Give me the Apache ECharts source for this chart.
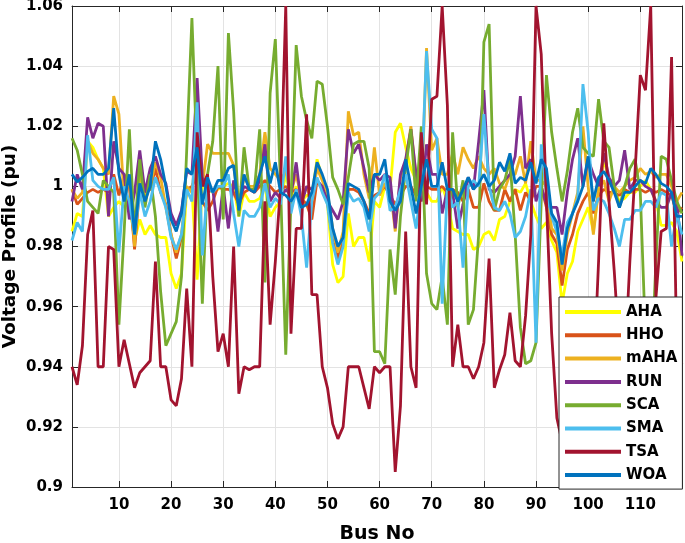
<!DOCTYPE html>
<html><head><meta charset="utf-8">
<script src="https://cdn.jsdelivr.net/npm/echarts@6/dist/echarts.min.js"></script>
<style>html,body{margin:0;padding:0;background:#fff}#c{width:685px;height:543px}</style>
</head><body><div id="c"></div><script>
// Bus numbers 1..118
const busNo = Array.from({length: 118}, (_, i) => i + 1);
const xTickValues = [10, 20, 30, 40, 50, 60, 70, 80, 90, 100, 110];
const seriesNames = ['AHA', 'HHO', 'mAHA', 'RUN', 'SCA', 'SMA', 'TSA', 'WOA'];

const AHA = [
0.985,0.991,0.990,1.015,1.013,1.009,1.006,0.990,0.993,0.995,
0.993,0.995,0.982,0.989,0.984,0.987,0.984,0.983,0.983,0.971,
0.966,0.971,0.999,0.999,0.969,1.000,0.999,0.998,0.999,1.000,
1.001,1.000,0.990,0.998,0.995,0.995,0.996,1.000,0.990,0.993,
0.995,1.004,0.996,1.000,0.995,0.997,0.997,1.009,1.003,0.994,
0.974,0.968,0.970,0.991,0.980,0.983,0.983,0.975,0.995,0.993,
1.000,0.999,1.018,1.021,1.013,1.006,1.002,0.998,0.998,0.995,
0.995,1.000,0.995,0.986,0.985,0.984,0.984,0.979,0.980,0.984,
0.985,0.982,0.989,0.990,0.995,0.999,0.998,1.001,0.995,0.990,
0.986,0.988,0.982,0.978,0.961,0.971,0.975,0.985,0.989,0.993,
0.985,0.999,1.009,1.002,0.999,0.995,0.996,0.998,0.998,1.000,
1.002,0.999,0.995,0.987,0.987,0.988,0.985,0.975];

const HHO = [
0.999,0.994,0.996,0.998,0.999,0.998,0.999,0.998,1.004,0.997,
1.004,1.000,0.979,1.000,0.998,0.999,1.006,0.998,0.994,0.984,
0.976,0.983,0.999,1.000,1.004,0.995,0.992,0.995,1.000,0.999,
0.999,0.998,0.994,0.998,0.999,0.998,1.000,1.002,1.000,0.998,
0.999,1.000,0.998,0.999,0.996,0.994,0.989,1.002,0.999,0.995,
0.982,0.976,0.982,0.999,0.999,0.998,0.995,0.991,0.997,0.998,
1.000,0.997,0.994,0.997,1.000,1.000,0.997,0.998,1.000,0.999,
0.999,1.000,0.998,0.999,0.998,0.995,0.999,0.993,0.993,1.001,
0.995,0.992,0.992,0.999,0.995,0.999,0.992,0.998,0.995,1.000,
1.000,0.993,0.984,0.981,0.967,0.979,0.984,0.991,0.995,0.998,
0.991,0.997,0.999,0.998,0.998,0.997,0.999,0.998,0.999,0.999,
0.998,0.999,0.998,0.999,0.998,0.997,0.991,0.993];

const mAHA = [
0.999,0.996,0.998,1.015,1.011,1.009,1.006,1.004,1.030,1.024,
0.996,1.003,0.980,1.005,0.996,1.000,1.008,1.003,0.993,0.984,
0.978,0.984,1.000,0.998,1.015,1.000,1.014,1.011,1.011,1.011,
1.011,1.007,0.993,1.003,1.000,1.000,1.004,1.018,1.006,1.004,
1.002,1.005,0.998,1.004,0.996,1.000,0.995,1.006,1.002,0.998,
0.986,0.978,0.985,1.025,1.017,1.018,1.004,0.996,1.013,0.997,
1.001,1.000,0.985,1.003,1.008,1.020,1.003,0.995,1.046,1.012,
1.016,1.004,1.004,1.011,1.004,1.013,1.009,1.006,1.010,1.006,
1.004,1.006,1.001,0.999,1.004,1.004,1.010,1.001,1.015,1.002,
1.002,1.000,0.986,0.984,0.972,0.984,0.991,0.998,1.020,1.000,
0.984,0.999,1.002,0.995,1.000,0.998,1.000,1.002,1.003,1.006,
1.004,1.005,1.003,1.004,1.004,1.000,0.995,0.998];

const RUN = [
0.995,1.004,0.999,1.023,1.016,1.021,1.020,0.990,1.015,1.006,
1.004,0.989,0.998,1.012,0.998,1.006,1.010,1.004,1.001,0.991,
0.987,0.992,1.005,1.004,1.036,1.003,0.998,0.999,0.985,1.000,
0.986,1.002,0.995,1.000,0.999,0.998,1.002,1.014,0.995,0.998,
0.996,0.999,0.997,1.008,0.994,1.000,0.999,1.002,1.000,0.995,
0.992,0.989,0.995,1.019,1.011,1.014,1.006,0.998,1.004,1.002,
1.004,1.003,0.986,1.004,1.009,1.019,1.004,0.995,1.014,1.004,
1.004,0.991,0.999,0.998,0.986,0.994,1.003,0.999,1.015,1.032,
0.999,0.998,1.000,1.002,1.004,1.010,1.030,1.006,1.009,0.995,
1.000,0.994,0.993,0.993,0.984,0.998,1.009,1.016,1.000,1.009,
1.004,1.000,1.011,1.003,1.000,1.002,1.012,0.999,1.002,1.002,
1.000,0.999,0.995,0.993,0.993,0.998,0.995,0.977];

const SCA = [
1.016,1.012,1.004,0.995,0.993,0.991,1.002,1.000,0.998,0.954,
0.985,1.019,0.984,1.009,0.993,1.004,0.990,0.965,0.947,0.951,
0.955,0.970,1.012,1.056,1.009,0.961,1.004,1.015,1.040,0.989,
1.051,1.025,0.990,1.013,0.999,0.999,1.019,0.968,1.031,1.049,
1.000,0.944,0.995,1.047,1.030,1.022,1.016,1.035,1.034,1.020,
1.003,0.999,0.994,1.003,1.014,1.015,1.015,1.006,0.945,0.945,
0.941,0.979,0.964,0.990,1.006,1.019,0.995,1.020,0.971,0.961,
0.959,0.970,0.954,1.018,0.993,1.002,0.954,0.959,0.984,1.048,
1.054,0.992,0.999,1.002,1.009,0.984,0.953,0.941,0.942,0.948,
0.995,1.037,1.018,1.006,0.995,1.005,1.018,1.026,1.013,1.011,
1.010,1.029,1.015,1.013,1.000,0.993,1.000,1.006,1.009,0.998,
0.950,0.935,0.975,1.010,1.009,1.002,0.995,0.991];

const SMA = [
0.982,0.988,0.985,1.017,1.002,1.000,0.999,0.999,1.003,0.978,
1.000,0.995,0.984,0.998,0.990,0.995,1.003,0.998,0.993,0.983,
0.979,0.984,0.999,0.995,1.028,0.977,1.000,0.998,1.000,1.000,
1.004,0.991,0.980,0.992,0.990,0.990,0.993,1.001,0.993,0.996,
0.994,1.010,0.991,0.999,0.990,0.973,0.995,1.003,0.998,0.994,
0.981,0.974,0.980,0.998,0.995,0.996,0.993,0.985,0.996,0.998,
1.004,0.992,0.993,0.999,1.004,0.995,0.986,1.000,1.045,1.019,
1.016,0.961,1.000,0.993,0.995,0.973,1.000,1.002,1.000,1.024,
1.000,0.993,0.992,0.995,0.991,0.983,0.985,0.990,0.999,0.948,
1.014,0.998,0.990,0.985,0.977,0.988,0.991,0.996,1.034,1.018,
0.992,0.996,0.995,0.991,0.986,0.980,0.989,0.989,0.992,0.992,
0.995,0.995,0.993,0.998,0.997,0.980,0.991,0.984];

const TSA = [
0.940,0.934,0.947,0.984,0.992,0.940,0.940,0.980,0.979,0.940,
0.949,0.941,0.933,0.938,0.940,0.942,0.975,0.940,0.940,0.929,
0.927,0.936,0.966,0.940,1.018,1.000,1.004,0.970,0.945,0.951,
0.940,0.980,0.931,0.940,0.939,0.940,0.940,0.995,0.954,0.975,
1.000,1.060,0.951,0.986,0.986,1.024,0.964,0.964,0.940,0.933,
0.921,0.916,0.920,0.940,0.940,0.940,0.933,0.926,0.940,0.938,
0.940,0.940,0.905,0.927,0.985,0.940,0.933,1.018,0.994,1.029,
1.030,1.060,1.027,0.940,0.954,0.940,0.940,0.936,0.940,0.948,
0.976,0.933,0.939,0.944,0.958,0.942,0.940,0.957,0.984,1.060,
1.044,0.995,0.951,0.923,0.915,0.925,0.930,0.940,0.935,0.930,
0.935,0.975,1.021,0.995,0.972,0.945,0.940,0.975,1.005,1.037,
1.032,1.060,0.963,0.985,0.986,1.043,0.945,0.941];

const WOA = [
1.004,1.0015,1.003,1.005,1.006,1.004,1.004,1.006,1.026,1.004,
0.995,1.004,0.984,1.001,0.995,1.000,1.015,1.009,1.000,0.989,
0.985,0.991,1.006,1.004,1.013,0.994,1.003,0.998,1.002,1.002,
1.006,1.007,0.992,1.004,0.999,0.998,1.004,1.010,1.001,1.008,
0.998,0.997,0.995,0.998,0.993,0.994,0.998,1.008,1.004,0.999,
0.986,0.980,0.983,1.001,1.000,0.999,0.995,0.989,1.004,1.004,
1.009,0.995,0.992,0.995,1.009,1.000,0.991,1.000,1.009,1.000,
1.000,1.008,0.999,0.999,0.995,0.999,1.003,0.999,1.001,1.004,
1.000,1.002,1.008,1.005,1.011,1.001,1.003,1.002,1.008,1.001,
1.009,1.006,0.991,0.988,0.974,0.986,0.991,0.995,1.000,1.010,
0.995,1.003,1.005,1.002,0.998,0.993,0.998,0.998,1.000,1.002,
1.001,1.006,1.004,1.001,1.000,0.998,0.990,0.990];

const seriesValues = [AHA, HHO, mAHA, RUN, SCA, SMA, TSA, WOA];
const colors = ['#FFFF00', '#D95319', '#EDB120', '#7E2F8E', '#77AC30', '#4DBEEE', '#A2142F', '#0072BD'];

const FONT = 'DejaVu Sans';
const AX = '#262626';
const labelStyle = {fontFamily: FONT, fontWeight: 'bold', fontSize: 15, color: '#000'};

const chart = echarts.init(document.getElementById('c'), null, {renderer: 'canvas'});

const series = seriesNames.map((name, k) => ({
  name: name,
  type: 'line',
  xAxisIndex: 0,
  yAxisIndex: 0,
  showSymbol: false,
  symbol: 'none',
  clip: true,
  lineStyle: {width: 2.8, color: colors[k]},
  itemStyle: {color: colors[k]},
  data: busNo.map((b, i) => [b, seriesValues[k][i]]),
  z: 2 + k
}));

chart.setOption({
  animation: false,
  backgroundColor: '#fff',
  grid: {left: 72, right: 3, top: 6, bottom: 56, containLabel: false, outerBoundsMode: 'none'},
  xAxis: [{
    type: 'value', min: 1, max: 118, position: 'bottom',
    name: 'Bus No', nameLocation: 'middle', nameGap: 38, nameMoveOverlap: false,
    nameTextStyle: {fontFamily: FONT, fontWeight: 'bold', fontSize: 19, color: '#000'},
    axisLine: {show: true, onZero: false, lineStyle: {color: AX, width: 1}},
    axisTick: {show: true, inside: true, length: 6, customValues: xTickValues, lineStyle: {color: AX}},
    axisLabel: Object.assign({show: true, margin: 11, customValues: xTickValues}, labelStyle),
    splitLine: {show: true, lineStyle: {color: '#e3e3e3', width: 1}}
  }, {
    type: 'value', min: 1, max: 118, position: 'top',
    axisLine: {show: true, onZero: false, lineStyle: {color: AX, width: 1}},
    axisTick: {show: true, inside: true, length: 6, customValues: xTickValues, lineStyle: {color: AX}},
    axisLabel: {show: false},
    splitLine: {show: false}
  }],
  yAxis: [{
    type: 'value', min: 0.9, max: 1.06, interval: 0.02, position: 'left',
    name: 'Voltage Profile (pu)', nameLocation: 'middle', nameGap: 52, nameMoveOverlap: false,
    nameTextStyle: {fontFamily: FONT, fontWeight: 'bold', fontSize: 18.5, color: '#000'},
    axisLine: {show: true, onZero: false, lineStyle: {color: AX, width: 1}},
    axisTick: {show: true, inside: true, length: 6, lineStyle: {color: AX}},
    axisLabel: Object.assign({show: true, margin: 9, formatter: v => String(+v.toFixed(2))}, labelStyle),
    splitLine: {show: true, lineStyle: {color: '#e3e3e3', width: 1}}
  }, {
    type: 'value', min: 0.9, max: 1.06, interval: 0.02, position: 'right',
    axisLine: {show: true, onZero: false, lineStyle: {color: AX, width: 1}},
    axisTick: {show: true, inside: true, length: 6, lineStyle: {color: AX}},
    axisLabel: {show: false},
    splitLine: {show: false}
  }],
  legend: {
    orient: 'vertical',
    left: 559, top: 297,
    backgroundColor: '#fff',
    borderColor: AX, borderWidth: 1,
    padding: [6, 5, 5, 6],
    itemWidth: 56, itemHeight: 4, itemGap: 5.3,
    icon: 'rect',
    textStyle: {fontFamily: FONT, fontWeight: 'bold', fontSize: 15, color: '#000', lineHeight: 18},
    data: seriesNames,
    z: 20
  },
  series: series
});
</script></body></html>
